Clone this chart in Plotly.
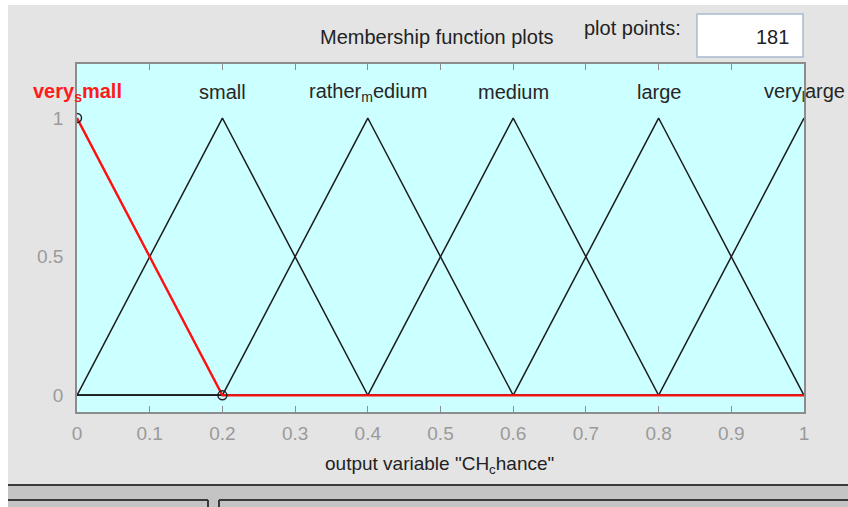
import numpy as np
import plotly.graph_objects as go

# Membership functions of the output variable (triangular: a, b, c)
mf_names = ["very<sub>s</sub>mall", "small", "rather<sub>m</sub>edium", "medium", "large", "very<sub>l</sub>arge"]
mf_a = [-0.2, 0.0, 0.2, 0.4, 0.6, 0.8]
mf_b = [0.0, 0.2, 0.4, 0.6, 0.8, 1.0]
mf_c = [0.2, 0.4, 0.6, 0.8, 1.0, 1.2]
selected = 0  # highlighted MF (very small)

plot_points = 181
x_ticks = [0, 0.1, 0.2, 0.3, 0.4, 0.5, 0.6, 0.7, 0.8, 0.9, 1]
x_ticktext = ["0", "0.1", "0.2", "0.3", "0.4", "0.5", "0.6", "0.7", "0.8", "0.9", "1"]
y_ticks = [0, 0.5, 1]
y_ticktext = ["0", "0.5", "1"]

W, H = 848, 507
PL, PR, PT, PB = 77, 804, 64, 412
FONT = "Liberation Sans, Arial, sans-serif"


def px(x):
    return (x - PL) / (PR - PL)


def py(y):
    return (PB - y) / (PB - PT)


def trimf(x, a, b, c):
    left = (x - a) / (b - a)
    right = (c - x) / (c - b)
    return np.clip(np.minimum(left, right), 0, 1)


xs = np.linspace(0, 1, plot_points)

fig = go.Figure()
for i in range(len(mf_names)):
    if i == selected:
        continue
    fig.add_trace(go.Scatter(x=xs, y=trimf(xs, mf_a[i], mf_b[i], mf_c[i]), mode="lines",
                             line=dict(color="#1c1c1c", width=1.5), hoverinfo="skip"))

fig.add_trace(go.Scatter(x=xs, y=trimf(xs, mf_a[selected], mf_b[selected], mf_c[selected]),
                         mode="lines", line=dict(color="#ff1010", width=2.4), hoverinfo="skip"))
# parameter handles of the selected MF
fig.add_trace(go.Scatter(x=[mf_b[selected], mf_c[selected]], y=[1, 0], mode="markers",
                         marker=dict(symbol="circle-open", size=9, color="#202020",
                                     line=dict(width=1.5, color="#202020")),
                         hoverinfo="skip"))

annotations = []
for i, name in enumerate(mf_names):
    sel = i == selected
    annotations.append(dict(
        x=mf_b[i], y=1.094, xref="x", yref="y", text=f"<b>{name}</b>" if sel else name,
        showarrow=False, xanchor="center", yanchor="middle",
        font=dict(family=FONT, size=20, color="#ff1a1a" if sel else "#262626")))

annotations += [
    dict(x=px(436), y=py(37), xref="paper", yref="paper", text="Membership function plots",
         showarrow=False, xanchor="center", yanchor="middle",
         font=dict(family=FONT, size=20, color="#222222")),
    dict(x=px(632), y=py(28), xref="paper", yref="paper", text="plot points:",
         showarrow=False, xanchor="center", yanchor="middle",
         font=dict(family=FONT, size=20, color="#222222")),
    dict(x=px(791), y=py(37), xref="paper", yref="paper", text=str(plot_points),
         showarrow=False, xanchor="right", yanchor="middle",
         font=dict(family=FONT, size=20, color="#222222")),
    dict(x=px(439), y=py(465), xref="paper", yref="paper",
         text='output variable "CH<sub>c</sub>hance"',
         showarrow=False, xanchor="center", yanchor="middle",
         font=dict(family=FONT, size=19, color="#222222")),
]

shapes = [
    # window edges
    dict(type="rect", xref="paper", yref="paper", x0=px(0), x1=px(8), y0=py(507), y1=py(0),
         fillcolor="#ffffff", line=dict(width=0)),
    dict(type="rect", xref="paper", yref="paper", x0=px(0), x1=px(848), y0=py(5), y1=py(0),
         fillcolor="#ffffff", line=dict(width=0)),
    # plot points edit box
    dict(type="rect", xref="paper", yref="paper", x0=px(697), x1=px(803), y0=py(57), y1=py(14),
         fillcolor="#ffffff", line=dict(color="#a9b9cf", width=1.5)),
    # lower panel
    dict(type="rect", xref="paper", yref="paper", x0=px(8), x1=px(848), y0=py(507), y1=py(485),
         fillcolor="#c4c4c4", line=dict(width=0)),
    dict(type="line", xref="paper", yref="paper", x0=px(8), x1=px(848), y0=py(485), y1=py(485),
         line=dict(color="#3a3a3a", width=2)),
    dict(type="line", xref="paper", yref="paper", x0=px(8), x1=px(208), y0=py(500), y1=py(500),
         line=dict(color="#3a3a3a", width=2)),
    dict(type="line", xref="paper", yref="paper", x0=px(208), x1=px(208), y0=py(500), y1=py(507),
         line=dict(color="#3a3a3a", width=2)),
    dict(type="line", xref="paper", yref="paper", x0=px(219), x1=px(219), y0=py(500), y1=py(507),
         line=dict(color="#3a3a3a", width=2)),
    dict(type="line", xref="paper", yref="paper", x0=px(219), x1=px(848), y0=py(500), y1=py(500),
         line=dict(color="#3a3a3a", width=2)),
]

fig.update_layout(
    width=W, height=H,
    margin=dict(l=PL, r=W - PR, t=PT, b=H - PB, pad=0),
    paper_bgcolor="#e4e4e4", plot_bgcolor="#ccffff",
    showlegend=False,
    annotations=annotations, shapes=shapes,
    xaxis=dict(range=[0, 1], tickvals=x_ticks, ticktext=x_ticktext, ticks="inside", ticklen=6,
               tickcolor="#8c8c8c", tickwidth=1.2, showline=True, linecolor="#8c8c8c", linewidth=1.5,
               mirror="ticks", showgrid=False, zeroline=False, ticklabelstandoff=3,
               tickfont=dict(family=FONT, size=19, color="#9a9a9a")),
    yaxis=dict(range=[-0.06, 1.195], tickvals=y_ticks, ticktext=y_ticktext, ticks="",
               showline=True, linecolor="#8c8c8c", linewidth=1.5, mirror=True, showgrid=False,
               zeroline=False, ticklabelstandoff=8,
               tickfont=dict(family=FONT, size=19, color="#9a9a9a")),
)

fig.write_html("out.html")
